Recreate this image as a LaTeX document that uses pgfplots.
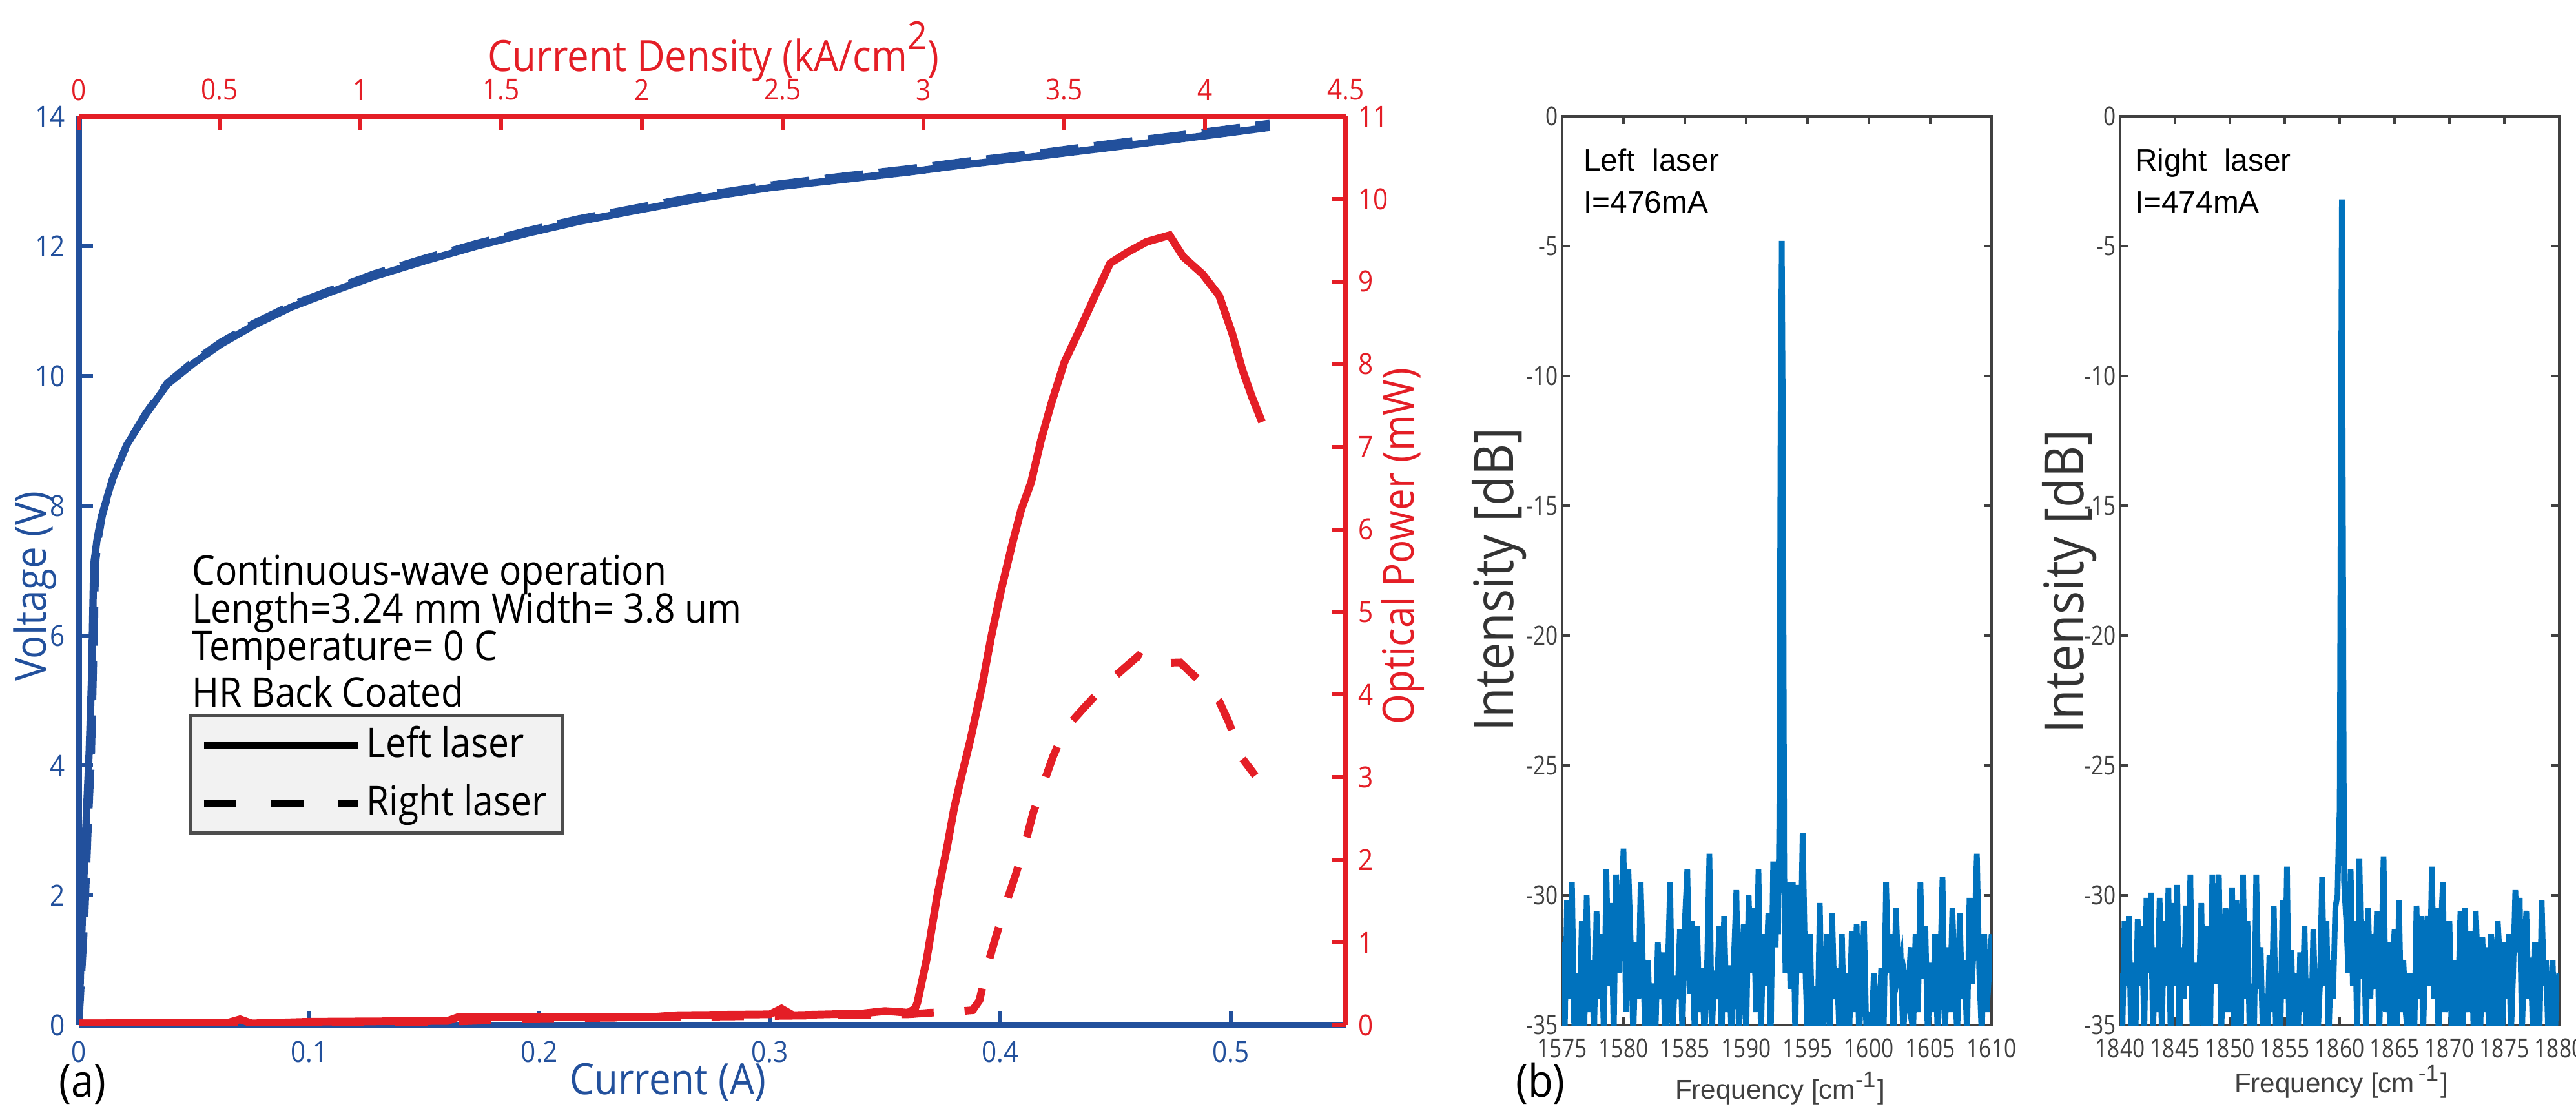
\documentclass[border=0pt]{standalone}
\usepackage{pgfplots}
\pgfplotsset{compat=1.18}
\usepackage{fontspec}
\setmainfont{Open Sans}[FakeStretch=0.9]
\newfontfamily\condfont{Open Sans}[FakeStretch=0.82]
\newfontfamily\helv{Liberation Sans}
\newcommand{\fs}[2]{\fontsize{#1}{#2}\selectfont}
\definecolor{vblue}{HTML}{22509C}
\definecolor{pred}{HTML}{E41E26}
\definecolor{mblue}{HTML}{0072BD}
\definecolor{mgray}{HTML}{404040}
\definecolor{legfill}{HTML}{F2F2F2}
\definecolor{legdraw}{HTML}{4D4D4D}
\pgfplotsset{
  /pgf/number format/assume math mode=true,
  /pgf/number format/1000 sep={},
  every tick label/.append style={inner sep=0pt},
}

\begin{document}
\begin{tikzpicture}
\useasboundingbox (0,0) rectangle (19.945,8.595);

% ---------- (a) voltage vs current ----------
\begin{axis}[
  at={(0.61cm,0.66cm)}, anchor=south west, scale only axis,
  width=9.81cm, height=7.035cm,
  xmin=0, xmax=0.55, ymin=0, ymax=14,
  axis x line*=bottom, axis y line*=left,
  axis line style={vblue, line width=1.3pt, -},
  xtick={0,0.1,0.2,0.3,0.4,0.5}, ytick={0,2,4,6,8,10,12,14},
  tick align=inside, major tick length=0.11cm,
  tick style={vblue, line width=0.85pt},
  tick label style={font=\fs{6.4}{7}, text=vblue},
  xticklabel shift=0.115cm, yticklabel shift=0.1cm,
  xlabel={Current (A)}, ylabel={Voltage (V)},
  label style={font=\fs{9.5}{11}, text=vblue},
  xlabel style={at={(rel axis cs:0.465,0)}, anchor=center, yshift=-0.445cm},
  ylabel style={at={(rel axis cs:0,0.483)}, anchor=center, yshift=0.34cm},
]
\addplot[vblue, line width=1.6pt, dash pattern=on 0.3cm off 0.12cm] coordinates {
  (0,0) (0.0025,1.6) (0.004,3.0) (0.0055,4.2) (0.0062,5.3) (0.0068,6.2) (0.0072,7.1)
  (0.0085,7.5) (0.0102,7.85) (0.0148,8.42) (0.021,8.95) (0.029,9.42) (0.0384,9.89)
  (0.05,10.23) (0.0617,10.52) (0.076,10.81) (0.0922,11.09) (0.11,11.33) (0.128,11.57)
  (0.15,11.81) (0.1727,12.04) (0.195,12.24) (0.217,12.42) (0.245,12.61) (0.274,12.8)
  (0.30,12.94) (0.33,13.07) (0.36,13.19) (0.386,13.31) (0.42,13.45) (0.45,13.59)
  (0.48,13.72) (0.50,13.81) (0.517,13.89)
};
\addplot[vblue, line width=1.6pt] coordinates {
  (0,0) (0.0015,1.6) (0.003,3.0) (0.0045,4.2) (0.0055,5.3) (0.006,6.2) (0.0065,7.1)
  (0.008,7.5) (0.0098,7.83) (0.0145,8.4) (0.0207,8.93) (0.029,9.4) (0.0384,9.87)
  (0.05,10.2) (0.0617,10.49) (0.076,10.78) (0.0922,11.06) (0.11,11.3) (0.128,11.53)
  (0.15,11.77) (0.1727,12.0) (0.195,12.2) (0.217,12.38) (0.245,12.57) (0.274,12.76)
  (0.30,12.9) (0.33,13.02) (0.36,13.14) (0.386,13.26) (0.42,13.4) (0.45,13.53)
  (0.48,13.66) (0.50,13.75) (0.517,13.83)
};
\end{axis}

% ---------- (a) optical power vs current density ----------
\begin{axis}[
  at={(0.61cm,0.66cm)}, anchor=south west, scale only axis,
  width=9.81cm, height=7.035cm,
  xmin=0, xmax=0.55, ymin=0, ymax=11,
  axis x line*=top, axis y line*=right,
  axis line style={pred, line width=1.1pt, -},
  xtick={0,0.061111,0.122222,0.183333,0.244444,0.305556,0.366667,0.427778,0.488889,0.55},
  xticklabels={0,0.5,1,1.5,2,2.5,3,3.5,4,4.5},
  ytick={0,1,2,3,4,5,6,7,8,9,10,11},
  tick align=inside, major tick length=0.11cm,
  tick style={pred, line width=0.85pt},
  tick label style={font=\fs{6.4}{7}, text=pred},
  xticklabel shift=0.115cm, yticklabel shift=0.09cm,
  xlabel={Current Density (kA/cm\raisebox{0.5em}{\fs{8.5}{9}2})},
  ylabel={Optical Power (mW)},
  label style={font=\fs{9.5}{11}, text=pred},
  xlabel style={at={(rel axis cs:0.501,1)}, anchor=base, yshift=0.35cm},
  ylabel style={at={(rel axis cs:1,0.527)}, anchor=center, yshift=-0.44cm},
  legend cell align=left,
  legend image code/.code={\draw[#1] (0cm,0cm) -- (1.19cm,0cm);},
  legend style={at={(rel axis cs:0.0866,0.2097)}, anchor=south west,
    fill=legfill, draw=legdraw, line width=0.7pt,
    font=\fs{9}{10}, row sep=0.12cm, inner xsep=0.08cm, inner ysep=0.06cm,
    nodes={inner xsep=0.04cm, inner ysep=0.02cm}},
]
\addplot[pred, line width=1.7pt, dash pattern=on 0.25cm off 0.24cm, forget plot] coordinates {
  (0,0.02) (0.1,0.03) (0.16,0.04) (0.2,0.08) (0.3,0.11) (0.36,0.13) (0.37,0.15)
  (0.38,0.16) (0.388,0.18) (0.391,0.3) (0.394,0.68) (0.398,1.06) (0.4026,1.48)
  (0.4068,1.83) (0.411,2.22) (0.4143,2.57) (0.4196,2.99) (0.4229,3.25) (0.4283,3.59)
  (0.436,3.83) (0.446,4.13) (0.46,4.47) (0.466,4.38) (0.478,4.39) (0.4864,4.17)
  (0.495,3.92) (0.4993,3.66) (0.505,3.23) (0.5107,3.02)
};
\addplot[pred, line width=1.7pt, forget plot] coordinates {
  (0,0.02) (0.065,0.03) (0.07,0.07) (0.075,0.02) (0.1,0.04) (0.16,0.05) (0.165,0.1)
  (0.2,0.1) (0.25,0.1) (0.26,0.12) (0.3,0.13) (0.305,0.2) (0.31,0.12) (0.34,0.14)
  (0.35,0.17) (0.36,0.15) (0.363,0.2) (0.364,0.27) (0.368,0.79) (0.3726,1.56)
  (0.377,2.17) (0.380,2.63) (0.383,2.99) (0.387,3.45) (0.392,4.09) (0.396,4.69)
  (0.4006,5.29) (0.405,5.8) (0.409,6.23) (0.4134,6.57) (0.4177,7.08) (0.422,7.51)
  (0.4278,8.02) (0.435,8.45) (0.442,8.88) (0.4477,9.22) (0.455,9.35) (0.4635,9.48)
  (0.4735,9.56) (0.4794,9.3) (0.4878,9.09) (0.495,8.83) (0.5007,8.37) (0.505,7.94)
  (0.5093,7.6) (0.5136,7.3)
};
\addlegendimage{black, line width=1.6pt}
\addlegendentry{Left laser}
\addlegendimage{black, line width=1.6pt, dash pattern=on 0.25cm off 0.27cm}
\addlegendentry{Right laser}
\node[anchor=base west, inner sep=0, font=\fs{9}{10}] at (rel axis cs:0.0887,0.4847) {Continuous-wave operation};
\node[anchor=base west, inner sep=0, font=\fs{9}{10}] at (rel axis cs:0.0887,0.4421) {Length=3.24 mm Width= 3.8 um};
\node[anchor=base west, inner sep=0, font=\fs{9}{10}] at (rel axis cs:0.0887,0.4009) {Temperature= 0 C};
\node[anchor=base west, inner sep=0, font=\fs{9}{10}] at (rel axis cs:0.0887,0.3497) {HR Back Coated};
\end{axis}

\pgfplotsset{
  specstyle/.style={
    anchor=south west, scale only axis, height=7.035cm,
    ymin=-35, ymax=0, ytick={-35,-30,-25,-20,-15,-10,-5,0},
    tick align=inside, major tick length=0.06cm,
    axis line style={mgray, line width=0.45pt},
    tick style={mgray, line width=0.45pt},
    tick label style={font=\condfont\fs{5.8}{6.5}, text=mgray},
    xticklabel shift=0.1cm, yticklabel shift=0.025cm,
    xlabel style={font=\helv\fs{6}{7}, text=mgray, anchor=center},
    ylabel style={font=\fs{12}{13}, text=black!80, anchor=center},
  }
}

% ---------- (b) left laser spectrum ----------
\begin{axis}[specstyle,
  at={(12.095cm,0.66cm)}, width=3.325cm,
  xmin=1575, xmax=1610, xtick={1575,1580,1585,1590,1595,1600,1605,1610},
  xlabel={Frequency [cm\textsuperscript{-1}]}, ylabel={Intensity [dB]},
  xlabel style={at={(rel axis cs:0.508,0)}, yshift=-0.49cm},
  ylabel style={at={(rel axis cs:0,0.49)}, yshift=0.485cm},
]
\addplot[mblue, line width=1.25pt] coordinates {
(1575.0,-31.8) (1575.2,-35.5) (1575.4,-30.2) (1575.6,-34.0) (1575.8,-29.5) (1576.0,-35.5) (1576.2,-33.0) (1576.4,-35.5) (1576.6,-31.0) (1576.8,-35.5)
(1577.0,-30.0) (1577.2,-34.5) (1577.4,-32.5) (1577.6,-35.5) (1577.8,-30.6) (1578.0,-34.0) (1578.2,-31.5) (1578.4,-35.5) (1578.6,-29.0) (1578.8,-33.5)
(1579.0,-30.3) (1579.2,-35.5) (1579.4,-29.2) (1579.6,-33.0) (1579.8,-31.0) (1580.0,-28.2) (1580.2,-34.5) (1580.4,-29.0) (1580.6,-32.0) (1580.8,-35.5)
(1581.0,-31.8) (1581.2,-34.0) (1581.4,-29.5) (1581.6,-33.0) (1581.8,-35.5) (1582.0,-32.5) (1582.2,-35.5) (1582.4,-33.4) (1582.6,-35.5) (1582.8,-31.8)
(1583.0,-34.0) (1583.2,-32.2) (1583.4,-35.5) (1583.6,-33.0) (1583.8,-29.5) (1584.0,-35.5) (1584.2,-33.1) (1584.4,-34.0) (1584.6,-31.3) (1584.8,-35.5)
(1585.0,-31.0) (1585.2,-29.0) (1585.4,-33.8) (1585.6,-31.0) (1585.8,-35.5) (1586.0,-31.2) (1586.2,-34.5) (1586.4,-32.8) (1586.6,-35.5) (1586.8,-33.0)
(1587.0,-28.4) (1587.2,-35.5) (1587.4,-32.9) (1587.6,-34.0) (1587.8,-31.2) (1588.0,-35.5) (1588.2,-30.8) (1588.4,-34.5) (1588.6,-32.7) (1588.8,-35.5)
(1589.0,-32.4) (1589.2,-29.8) (1589.4,-35.5) (1589.6,-33.2) (1589.8,-31.1) (1590.0,-35.5) (1590.2,-30.0) (1590.4,-33.0) (1590.6,-30.5) (1590.8,-34.5)
(1591.0,-29.0) (1591.2,-35.5) (1591.4,-31.5) (1591.6,-33.5) (1591.8,-30.7) (1592.0,-35.5) (1592.2,-28.7) (1592.4,-32.0) (1592.5,-30.0) (1592.6,-31.5)
(1592.7,-27.0) (1592.8,-12.0) (1592.9,-4.8) (1593.0,-13.0) (1593.1,-29.0) (1593.2,-33.0) (1593.4,-29.5) (1593.6,-33.6) (1593.8,-29.5)
(1594.0,-35.5) (1594.2,-29.6) (1594.4,-33.0) (1594.6,-27.6) (1594.8,-32.5) (1595.0,-35.5) (1595.2,-31.5) (1595.4,-35.5) (1595.6,-33.5) (1595.8,-35.5)
(1596.0,-30.3) (1596.2,-35.5) (1596.4,-33.2) (1596.6,-31.5) (1596.8,-35.5) (1597.0,-30.7) (1597.2,-34.0) (1597.4,-32.8) (1597.6,-35.5) (1597.8,-31.5)
(1598.0,-35.5) (1598.2,-33.0) (1598.4,-35.5) (1598.6,-31.4) (1598.8,-34.5) (1599.0,-31.1) (1599.2,-35.5) (1599.4,-33.5) (1599.6,-31.0) (1599.8,-35.5)
(1600.0,-34.5) (1600.2,-35.5) (1600.4,-33.0) (1600.6,-34.5) (1600.8,-35.5) (1601.0,-32.8) (1601.2,-35.5) (1601.4,-29.5) (1601.6,-33.0) (1601.8,-31.5)
(1602.0,-35.5) (1602.2,-30.5) (1602.4,-33.0) (1602.6,-32.5) (1602.8,-35.5) (1603.0,-33.4) (1603.2,-34.0) (1603.4,-32.0) (1603.6,-35.5) (1603.8,-31.5)
(1604.0,-34.5) (1604.2,-29.5) (1604.4,-33.2) (1604.6,-31.2) (1604.8,-35.5) (1605.0,-32.6) (1605.2,-34.5) (1605.4,-31.5) (1605.6,-35.5) (1605.8,-33.0)
(1606.0,-29.3) (1606.2,-35.5) (1606.4,-32.0) (1606.6,-34.5) (1606.8,-30.5) (1607.0,-33.2) (1607.2,-35.5) (1607.4,-30.7) (1607.6,-34.0) (1607.8,-32.5)
(1608.0,-35.5) (1608.2,-30.1) (1608.4,-33.4) (1608.6,-31.5) (1608.8,-28.4) (1609.0,-33.0) (1609.2,-35.5) (1609.4,-31.5) (1609.6,-34.5) (1609.8,-33.0)
(1610.0,-31.5)
};
\node[anchor=base west, inner sep=0, font=\helv\fs{6.8}{7}] at (rel axis cs:0.048,0.9396) {Left\ \ laser};
\node[anchor=base west, inner sep=0, font=\helv\fs{6.8}{7}] at (rel axis cs:0.048,0.894) {I=476mA};
\end{axis}

% ---------- (b) right laser spectrum ----------
\begin{axis}[specstyle,
  at={(16.415cm,0.66cm)}, width=3.40cm,
  xmin=1840, xmax=1880, xtick={1840,1845,1850,1855,1860,1865,1870,1875,1880},
  xlabel={Frequency [cm\textsuperscript{\,-1}]}, ylabel={Intensity [dB]},
  xlabel style={at={(rel axis cs:0.504,0)}, yshift=-0.44cm},
  ylabel style={at={(rel axis cs:0,0.488)}, yshift=0.39cm},
]
\addplot[mblue, line width=1.25pt] coordinates {
(1840.0,-33.0) (1840.2,-35.5) (1840.4,-31.0) (1840.6,-33.5) (1840.8,-30.8) (1841.0,-35.5) (1841.2,-32.6) (1841.4,-35.5) (1841.6,-30.9) (1841.8,-33.5)
(1842.0,-31.2) (1842.2,-35.5) (1842.4,-30.1) (1842.6,-33.0) (1842.8,-29.9) (1843.0,-35.5) (1843.2,-32.0) (1843.4,-34.5) (1843.6,-30.1) (1843.8,-35.5)
(1844.0,-31.0) (1844.2,-33.5) (1844.4,-29.7) (1844.6,-35.5) (1844.8,-30.3) (1845.0,-33.5) (1845.2,-29.6) (1845.4,-35.5) (1845.6,-32.0) (1845.8,-34.0)
(1846.0,-30.4) (1846.2,-33.5) (1846.4,-29.2) (1846.6,-35.5) (1846.8,-32.6) (1847.0,-35.5) (1847.2,-33.4) (1847.4,-30.3) (1847.6,-35.5) (1847.8,-33.0)
(1848.0,-31.2) (1848.2,-35.5) (1848.4,-29.2) (1848.6,-33.4) (1848.8,-31.0) (1849.0,-29.2) (1849.2,-35.5) (1849.4,-32.7) (1849.6,-30.5) (1849.8,-34.5)
(1850.0,-32.5) (1850.2,-29.7) (1850.4,-35.5) (1850.6,-30.2) (1850.8,-33.5) (1851.0,-35.5) (1851.2,-29.2) (1851.4,-34.0) (1851.6,-31.0) (1851.8,-35.5)
(1852.0,-33.4) (1852.2,-35.5) (1852.4,-29.2) (1852.6,-33.6) (1852.8,-32.0) (1853.0,-35.5) (1853.2,-33.9) (1853.4,-35.5) (1853.6,-32.3) (1853.8,-34.5)
(1854.0,-30.4) (1854.2,-35.5) (1854.4,-33.0) (1854.6,-35.5) (1854.8,-30.2) (1855.0,-34.0) (1855.2,-28.9) (1855.4,-35.5) (1855.6,-32.1) (1855.8,-35.5)
(1856.0,-33.0) (1856.2,-35.5) (1856.4,-32.2) (1856.6,-34.5) (1856.8,-31.2) (1857.0,-35.5) (1857.2,-33.2) (1857.4,-35.5) (1857.6,-31.3) (1857.8,-34.5)
(1858.0,-35.5) (1858.2,-33.5) (1858.4,-29.3) (1858.6,-33.5) (1858.8,-31.0) (1859.0,-35.5) (1859.2,-32.5) (1859.4,-34.0) (1859.6,-30.5) (1859.8,-30.0)
(1859.9,-28.0) (1860.0,-26.7) (1860.1,-14.0) (1860.2,-3.2) (1860.3,-16.0) (1860.4,-29.5) (1860.6,-31.0) (1860.8,-33.0)
(1861.0,-29.0) (1861.2,-33.5) (1861.4,-31.0) (1861.6,-35.5) (1861.8,-28.6) (1862.0,-33.2) (1862.2,-31.0) (1862.4,-35.5) (1862.6,-30.5) (1862.8,-34.0)
(1863.0,-31.5) (1863.2,-33.6) (1863.4,-30.6) (1863.6,-35.5) (1863.8,-32.3) (1864.0,-28.5) (1864.2,-34.5) (1864.4,-31.8) (1864.6,-35.5) (1864.8,-33.0)
(1865.0,-31.3) (1865.2,-35.5) (1865.4,-30.2) (1865.6,-34.5) (1865.8,-32.5) (1866.0,-34.4) (1866.2,-35.5) (1866.4,-33.0) (1866.6,-34.6) (1866.8,-35.5)
(1867.0,-30.4) (1867.2,-34.0) (1867.4,-30.8) (1867.6,-35.5) (1867.8,-32.2) (1868.0,-30.8) (1868.2,-33.5) (1868.4,-28.9) (1868.6,-34.0) (1868.8,-30.5)
(1869.0,-35.5) (1869.2,-31.5) (1869.4,-29.5) (1869.6,-34.5) (1869.8,-33.6) (1870.0,-31.0) (1870.2,-35.5) (1870.4,-32.5) (1870.6,-35.5) (1870.8,-33.8)
(1871.0,-30.6) (1871.2,-35.5) (1871.4,-30.5) (1871.6,-33.5) (1871.8,-34.5) (1872.0,-31.4) (1872.2,-35.5) (1872.4,-30.6) (1872.6,-33.0) (1872.8,-35.5)
(1873.0,-31.6) (1873.2,-34.5) (1873.4,-32.0) (1873.6,-35.5) (1873.8,-31.5) (1874.0,-33.0) (1874.2,-35.5) (1874.4,-31.0) (1874.6,-32.5) (1874.8,-35.5)
(1875.0,-31.8) (1875.2,-34.0) (1875.4,-31.5) (1875.6,-35.5) (1875.8,-33.0) (1876.0,-29.8) (1876.2,-32.2) (1876.4,-30.1) (1876.6,-35.5) (1876.8,-32.3)
(1877.0,-30.6) (1877.2,-34.0) (1877.4,-32.4) (1877.6,-35.5) (1877.8,-31.8) (1878.0,-33.3) (1878.2,-35.5) (1878.4,-30.2) (1878.6,-33.5) (1878.8,-32.5)
(1879.0,-35.5) (1879.2,-34.5) (1879.4,-32.5) (1879.6,-35.5) (1879.8,-33.5) (1880.0,-33.0)
};
\node[anchor=base west, inner sep=0, font=\helv\fs{6.8}{7}] at (rel axis cs:0.032,0.9396) {Right\ \ laser};
\node[anchor=base west, inner sep=0, font=\helv\fs{6.8}{7}] at (rel axis cs:0.032,0.894) {I=474mA};
\end{axis}

\node[anchor=south west, inner sep=0, font=\fs{10}{12}] at (0.45,0.04) {(a)};
\node[anchor=south west, inner sep=0, font=\fs{10}{12}] at (11.73,0.04) {(b)};
\end{tikzpicture}
\end{document}
